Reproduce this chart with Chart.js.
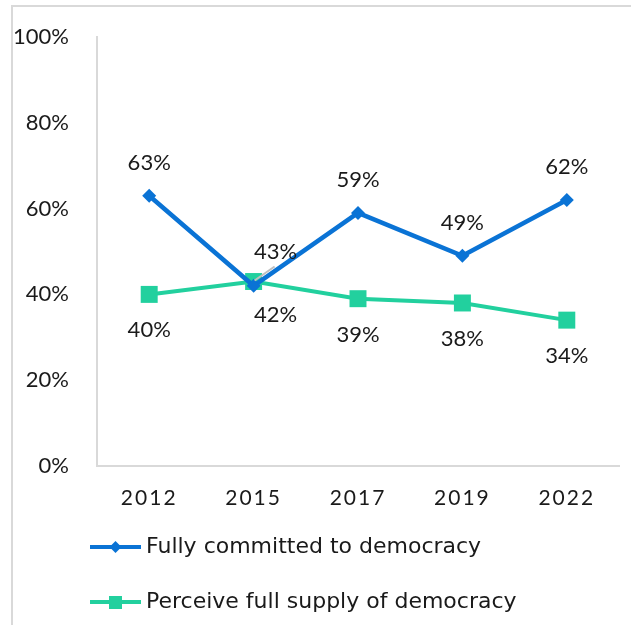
<!DOCTYPE html>
<html>
<head>
<meta charset="utf-8">
<script src="https://cdn.jsdelivr.net/npm/chart.js@4/dist/chart.umd.min.js"></script>
<style>
  html, body { margin: 0; padding: 0; background: #fff; overflow: hidden; }
  #wrap { position: relative; width: 631px; height: 625px; }
  #frame { position: absolute; left: 11px; top: 5px; width: 640px; height: 660px; border: 2px solid #d9d9d9; box-sizing: border-box; }
  canvas { position: absolute; left: 0; top: 0; }
</style>
</head>
<body>
<div id="wrap">
  <div id="frame"></div>
  <canvas id="chart" width="631" height="625"></canvas>
</div>
<script>
// Survey years and shares (%)
var years = ['2012', '2015', '2017', '2019', '2022'];
var fullyCommitted = [63, 42, 59, 49, 62];
var fullSupply = [40, 43, 39, 38, 34];
var seriesNames = ['Fully committed to democracy', 'Perceive full supply of democracy'];
var yTicks = [0, 20, 40, 60, 80, 100];

var BLUE = '#0a73d5';
var GREEN = '#22d09e';
var FONT = 'Lato, sans-serif';
var LEGEND_FONT = '"DejaVu Sans", sans-serif';
var TEXT = '#1a1a1a';

// where each value label sits: 'above' or 'below' the point
var bluePos = ['above', 'below', 'above', 'above', 'above'];
var greenPos = ['below', 'above', 'below', 'below', 'below'];

// value labels next to the points, and the legend rows
var valueLabels = {
  id: 'valueLabels',
  afterDatasetsDraw: function (chart) {
    var ctx = chart.ctx;
    ctx.save();
    ctx.font = '22px ' + FONT;
    ctx.fillStyle = TEXT;
    ctx.textAlign = 'center';
    ctx.textBaseline = 'middle';
    var places = [bluePos, greenPos];
    chart.data.datasets.forEach(function (ds, di) {
      chart.getDatasetMeta(di).data.forEach(function (pt, i) {
        var above = places[di][i] === 'above';
        var x = pt.x, y = above ? pt.y - 33 : pt.y + 36;
        if (i === 1) {
          // crowded crossing point: nudge labels right
          x += 22;
          if (above) {
            y = pt.y - 30;
            ctx.strokeStyle = '#bfbfbf';
            ctx.lineWidth = 2;
            ctx.beginPath();
            ctx.moveTo(pt.x + 1, pt.y - 1);
            ctx.lineTo(pt.x + 21, pt.y - 15);
            ctx.stroke();
          } else {
            y = pt.y + 29;
          }
        }
        ctx.fillText(ds.data[i] + '%', x, y);
      });
    });
    ctx.restore();
    // x tick labels are drawn after this, spaced out
    ctx.letterSpacing = '2px';
  },
  afterDraw: function (chart) {
    var ctx = chart.ctx;
    ctx.letterSpacing = '0px';
    ctx.save();
    ctx.font = '22px ' + LEGEND_FONT;
    ctx.textBaseline = 'middle';
    ctx.textAlign = 'left';
    var rows = [547, 602];
    chart.data.datasets.forEach(function (ds, di) {
      var y = rows[di];
      ctx.strokeStyle = ds.borderColor;
      ctx.lineWidth = 4;
      ctx.beginPath();
      ctx.moveTo(90, y);
      ctx.lineTo(141, y);
      ctx.stroke();
      ctx.fillStyle = ds.borderColor;
      if (ds.pointStyle === 'rectRot') {
        ctx.beginPath();
        ctx.moveTo(115.5, y - 6);
        ctx.lineTo(121.5, y);
        ctx.lineTo(115.5, y + 6);
        ctx.lineTo(109.5, y);
        ctx.closePath();
        ctx.fill();
      } else {
        ctx.fillRect(109, y - 6, 13, 13);
      }
      ctx.fillStyle = TEXT;
      ctx.fillText(ds.label, 146, y);
    });
    ctx.restore();
  }
};

function drawChart() {
  new Chart(document.getElementById('chart'), {
    type: 'line',
    data: {
      labels: years,
      datasets: [{
        label: seriesNames[0],
        data: fullyCommitted,
        borderColor: BLUE,
        backgroundColor: BLUE,
        borderWidth: 4.5,
        pointStyle: 'rectRot',
        pointRadius: 7,
        pointHoverRadius: 7,
        pointBorderWidth: 0
      }, {
        label: seriesNames[1],
        data: fullSupply,
        borderColor: GREEN,
        backgroundColor: GREEN,
        borderWidth: 4,
        pointStyle: 'rect',
        pointRadius: 12,
        pointHoverRadius: 12,
        pointBorderWidth: 0
      }]
    },
    options: {
      responsive: false,
      animation: false,
      layout: { padding: { top: 37, left: 0, right: 0, bottom: 0 } },
      plugins: {
        legend: { display: false },
        tooltip: { enabled: false }
      },
      scales: {
        x: {
          offset: true,
          grid: { display: false },
          border: { display: true, color: '#d9d9d9', width: 2 },
          ticks: { color: TEXT, font: { family: FONT, size: 21 }, padding: 12, maxRotation: 0, z: 1 },
          afterFit: function (scale) { scale.height = 159; }
        },
        y: {
          min: 0,
          max: 100,
          grid: { display: false },
          border: { display: true, color: '#d9d9d9', width: 2 },
          afterBuildTicks: function (scale) {
            scale.ticks = yTicks.map(function (v) { return { value: v }; });
          },
          ticks: {
            color: TEXT,
            font: { family: FONT, size: 22 },
            padding: 20,
            callback: function (v) { return v + '%'; }
          },
          afterFit: function (scale) { scale.width = 97; }
        }
      }
    },
    plugins: [valueLabels]
  });
}

// make sure both faces are ready before the canvas text is drawn
Promise.all([
  document.fonts.load('22px Lato'),
  document.fonts.load('22px "DejaVu Sans"')
]).then(drawChart, drawChart);
</script>
</body>
</html>
